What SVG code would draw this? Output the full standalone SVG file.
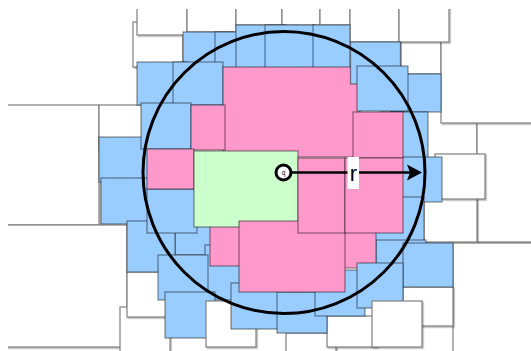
<svg xmlns="http://www.w3.org/2000/svg" width="531" height="351" viewBox="0 0 531 351">
  <style>
    .wb { fill: #ffffff; stroke: #7f7f7f; stroke-width: 1.2; filter: url(#sh); }
    .bl { fill: #99ccff; stroke: #000; stroke-opacity: 0.42; stroke-width: 1.3; }
    .pk { fill: #ff99cc; stroke: #000; stroke-opacity: 0.42; stroke-width: 1.3; }
    .gr { fill: #ccffcc; stroke: #000; stroke-opacity: 0.42; stroke-width: 1.3; }
  </style>
  <defs>
    <filter id="sh" x="-10%" y="-10%" width="130%" height="130%">
      <feDropShadow dx="1.2" dy="1.2" stdDeviation="0.5" flood-color="#000" flood-opacity="0.3"/>
    </filter>
    <clipPath id="frame">
      <rect x="8" y="9" width="523" height="342"/>
    </clipPath>
  </defs>
  <rect width="531" height="351" fill="#ffffff"/>

  <g id="cells" clip-path="url(#frame)">
    <!-- outer white cells -->
    <rect class="wb" x="133" y="22" width="50" height="45"/>
    <rect class="wb" x="137" y="-10" width="50" height="45"/>
    <rect class="wb" x="187" y="-13" width="49" height="45"/>
    <rect class="wb" x="236" y="-20" width="46" height="45"/>
    <rect class="wb" x="282" y="-20" width="38" height="45"/>
    <rect class="wb" x="320" y="-20" width="30" height="45"/>
    <rect class="wb" x="401" y="29" width="40" height="45"/>
    <rect class="wb" x="426" y="110" width="51" height="50"/>
    <rect class="wb" x="477" y="110" width="70" height="132"/>
    <rect class="wb" x="424" y="180" width="53" height="62"/>
    <rect class="wb" x="441" y="-5" width="100" height="128"/>
    <rect class="wb" x="350" y="-3" width="49" height="45"/>
    <rect class="wb" x="399" y="-3" width="50" height="45"/>
    <rect class="wb" x="435" y="154" width="50" height="45"/>
    <rect class="wb" x="453" y="243" width="90" height="120"/>
    <rect class="wb" x="403" y="287" width="50" height="39"/>
    <rect class="wb" x="286" y="333" width="50" height="30"/>
    <rect class="wb" x="327" y="316" width="50" height="31"/>
    <rect class="wb" x="-10" y="105" width="109" height="120"/>
    <rect class="wb" x="99" y="105" width="50" height="45"/>
    <rect class="wb" x="-10" y="225" width="137" height="122"/>
    <rect class="wb" x="120" y="307" width="50" height="60"/>
    <rect class="wb" x="127" y="272" width="50" height="45"/>

    <!-- blue cells along the top -->
    <rect class="bl" x="183" y="32" width="50" height="45"/>
    <rect class="bl" x="215" y="32" width="50" height="45"/>
    <rect class="bl" x="236" y="25" width="50" height="45"/>
    <rect class="bl" x="265" y="25" width="50" height="45"/>
    <rect class="bl" x="313" y="25" width="37" height="45"/>
    <rect class="bl" x="137" y="62" width="50" height="43"/>
    <rect class="bl" x="173" y="62" width="50" height="43"/>

    <!-- blue cells on the left and below -->
    <rect class="bl" x="99" y="137" width="50" height="45"/>
    <rect class="bl" x="141" y="103" width="50" height="46"/>
    <rect class="bl" x="101" y="178" width="50" height="46"/>
    <rect class="bl" x="175" y="212" width="50" height="43"/>
    <rect class="bl" x="127" y="221" width="48" height="51"/>
    <rect class="bl" x="147" y="189" width="50" height="44"/>
    <rect class="bl" x="205" y="245" width="50" height="55"/>
    <rect class="bl" x="158" y="255" width="50" height="45"/>
    <rect class="bl" x="165" y="292" width="50" height="46"/>
    <rect class="wb" x="206" y="301" width="50" height="46"/>
    <rect class="bl" x="231" y="283" width="50" height="46"/>
    <rect class="bl" x="277" y="292" width="50" height="41"/>
    <rect class="bl" x="315" y="270" width="50" height="46"/>

    <!-- blue cells on the right -->
    <rect class="bl" x="391" y="74" width="50" height="38"/>
    <rect class="bl" x="380" y="112" width="48" height="46"/>
    <rect class="bl" x="393" y="157" width="49" height="45"/>
    <rect class="bl" x="374" y="197" width="50" height="45"/>
    <rect class="bl" x="376" y="240" width="50" height="45"/>
    <rect class="bl" x="403" y="243" width="50" height="44"/>

    <!-- pink cells -->
    <rect class="pk" x="223" y="67" width="137" height="90"/>
    <rect class="bl" x="350.5" y="42" width="50" height="42"/>
    <rect class="bl" x="357" y="66" width="51" height="45"/>
    <rect class="pk" x="353" y="112" width="50" height="46"/>
    <rect class="pk" x="191" y="105" width="34" height="45"/>
    <rect class="pk" x="147" y="149" width="47" height="40"/>
    <rect class="pk" x="210" y="216" width="50" height="50"/>

    <!-- query cell -->
    <rect class="gr" x="194" y="151" width="104" height="76"/>

    <rect class="pk" x="326" y="222" width="50" height="46"/>
    <rect class="pk" x="239" y="221" width="106" height="71"/>
    <rect class="pk" x="298" y="158" width="47" height="75"/>
    <rect class="pk" x="345" y="158" width="58" height="75"/>

    <rect class="bl" x="357" y="263" width="46" height="45"/>
    <rect class="wb" x="372" y="301" width="50" height="46"/>
  </g>

  <!-- search radius -->
  <g id="range">
    <circle cx="284" cy="172.5" r="141" fill="none" stroke="#000" stroke-width="3"/>
    <line x1="291" y1="172.5" x2="410" y2="172.5" stroke="#000" stroke-width="2.5"/>
    <path d="M407,164.5 L422,172.5 L407,180.5 L410,172.5 Z" fill="#000"/>
    <rect x="347.5" y="157" width="11.5" height="32" fill="#ffffff"/>
    <text x="353.5" y="181" font-family="Liberation Sans, Arial, sans-serif" font-size="22" text-anchor="middle" fill="#000">r</text>
  </g>

  <g id="query">
    <circle cx="283.5" cy="172.5" r="7.5" fill="#ffffff" stroke="#000" stroke-width="3"/>
    <text x="283.5" y="174.8" font-family="Liberation Sans, Arial, sans-serif" font-size="6.5" text-anchor="middle" fill="#000">q</text>
  </g>
</svg>
